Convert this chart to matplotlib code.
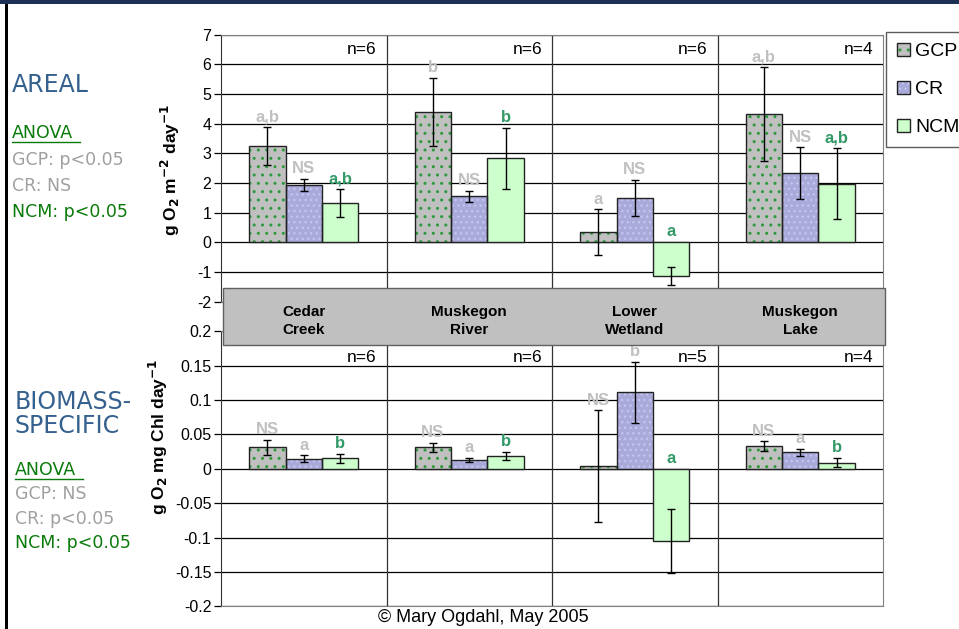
import numpy as np
import matplotlib
matplotlib.use("Agg")
import matplotlib.pyplot as plt
from matplotlib.patches import Rectangle, Patch

plt.rcParams['font.family'] = ['Liberation Sans', 'DejaVu Sans']
plt.rcParams['hatch.linewidth'] = 1.0

# ---- data ----
sites = ["Cedar\nCreek", "Muskegon\nRiver", "Lower\nWetland", "Muskegon\nLake"]
series = ["GCP", "CR", "NCM"]

areal = {"GCP": [3.24, 4.38, 0.34, 4.32],
         "CR":  [1.93, 1.55, 1.50, 2.33],
         "NCM": [1.32, 2.83, -1.15, 1.97]}
areal_err = {"GCP": [0.65, 1.15, 0.77, 1.58],
             "CR":  [0.20, 0.18, 0.60, 0.87],
             "NCM": [0.48, 1.03, 0.31, 1.20]}
areal_n = ["n=6", "n=6", "n=6", "n=4"]
areal_lab = {"GCP": ["a,b", "b", "a", "a,b"],
             "CR":  ["NS", "NS", "NS", "NS"],
             "NCM": ["a,b", "b", "a", "a,b"]}

bio = {"GCP": [0.031, 0.031, 0.004, 0.033],
       "CR":  [0.0145, 0.013, 0.111, 0.024],
       "NCM": [0.015, 0.019, -0.105, 0.009]}
bio_err = {"GCP": [0.011, 0.007, 0.081, 0.007],
           "CR":  [0.005, 0.003, 0.044, 0.005],
           "NCM": [0.007, 0.006, 0.047, 0.007]}
bio_n = ["n=6", "n=6", "n=5", "n=4"]
bio_lab = {"GCP": ["NS", "NS", "NS", "NS"],
           "CR":  ["a", "a", "b", "a"],
           "NCM": ["b", "b", "a", "b"]}

face = {"GCP": "#c0c0c0", "CR": "#a9a9da", "NCM": "#ccffcc"}
hatchc = {"GCP": "#2e9a3e", "CR": "#c4c4f0", "NCM": None}
hatchp = {"GCP": "..", "CR": "...", "NCM": None}
labc = {"GCP": "#c0c0c0", "CR": "#c0c0c0", "NCM": "#339966"}

W, H = 959, 629
fig = plt.figure(figsize=(W / 100, H / 100), dpi=100)


def px(x0, y0, x1, y1):
    # pixel box (top-left origin) -> figure fraction rect
    return [x0 / W, 1 - y1 / H, (x1 - x0) / W, (y1 - y0) / H]


def fmt(t):
    t = round(float(t), 4) + 0.0
    return f"{t:g}"


def draw_panel(ax, vals, errs, nlab, labs, ylim, ystep, ny):
    ng = len(sites)
    ax.set_xlim(0, ng)
    ax.set_ylim(*ylim)
    ticks = np.round(np.arange(ylim[0], ylim[1] + ystep / 2, ystep), 4)
    ax.set_yticks(ticks)
    ax.set_yticklabels([fmt(t) for t in ticks], fontsize=11.5)
    for t in ticks:
        ax.axhline(t, color="black", lw=0.9, zorder=0)
    for g in range(1, ng):
        ax.axvline(g, color="#333333", lw=0.9, zorder=0)
    ax.set_xticks([])
    for s in ["top", "right", "bottom"]:
        ax.spines[s].set_color("#808080")
    ax.spines["left"].set_color("#333333")
    ax.tick_params(axis="y", direction="out", length=5, width=0.9, pad=2)
    bw = 0.22
    offs = [-bw, 0, bw]
    for k, s in enumerate(series):
        x = np.arange(ng) + 0.5 + offs[k]
        v = np.array(vals[s])
        e = np.array(errs[s])
        ax.bar(x, v, width=bw, color=face[s], edgecolor=hatchc[s] or face[s],
               hatch=hatchp[s], linewidth=0, zorder=2)
        ax.bar(x, v, width=bw, facecolor="none", edgecolor="#222222",
               linewidth=1.0, zorder=3)
        ax.errorbar(x, v, yerr=e, fmt="none", ecolor="black", elinewidth=1,
                    capsize=3, capthick=1, zorder=4)
        for i in range(ng):
            top = v[i] + e[i] if v[i] >= 0 else 0
            ax.annotate(labs[s][i], (x[i], top), xytext=(0, 2),
                        textcoords="offset points", ha="center", va="bottom",
                        fontsize=12, fontweight="bold", color=labc[s], zorder=5)
    for i in range(ng):
        ax.text(i + 0.94, ny, nlab[i], ha="right", va="center",
                fontsize=12.5, transform=ax.get_xaxis_transform())


ax1 = fig.add_axes(px(221, 34.7, 883, 301.5))
draw_panel(ax1, areal, areal_err, areal_n, areal_lab, (-2, 7), 1, 0.946)
ax1.set_ylabel("g O$_\\mathbf{2}$ m$^\\mathbf{-2}$ day$^\\mathbf{-1}$",
               fontsize=12.5, fontweight="bold")
ax1.yaxis.set_label_coords((182 - 221) / 662, 0.493)

ax2 = fig.add_axes(px(221, 331.3, 883, 606.3))
draw_panel(ax2, bio, bio_err, bio_n, bio_lab, (-0.2, 0.2), 0.05, 0.903)
ax2.set_ylabel("g O$_\\mathbf{2}$ mg Chl day$^\\mathbf{-1}$",
               fontsize=12.5, fontweight="bold")
ax2.yaxis.set_label_coords((170 - 221) / 662, 0.616)

# site band between the panels
band = Rectangle((223 / W, 1 - 345 / H), (885 - 223) / W, (345 - 288) / H,
                 transform=fig.transFigure, facecolor="#c0c0c0",
                 edgecolor="#606060", lw=1, zorder=10)
fig.add_artist(band)
for i, s in enumerate(sites):
    cx = 221 + (i + 0.5) * 662 / 4
    fig.text(cx / W, 1 - 321 / H, s, ha="center", va="center", fontsize=11,
             fontweight="bold", zorder=11, linespacing=1.35)

# legend
handles = []
for s in series:
    fill = Patch(facecolor=face[s], edgecolor=hatchc[s] or face[s],
                 hatch=hatchp[s], linewidth=0)
    edge = Patch(facecolor="none", edgecolor="#222222", linewidth=1)
    handles.append((fill, edge))
leg = fig.legend(handles=handles, labels=series, loc="upper left",
                 bbox_to_anchor=(886 / W, 1 - 32 / H), frameon=True,
                 fontsize=14, handlelength=0.7, handleheight=0.7,
                 handletextpad=0.25, labelspacing=1.05, borderpad=0.55,
                 fancybox=False, borderaxespad=0)
leg.get_frame().set_edgecolor("#333333")
leg.get_frame().set_linewidth(1)

# left side text
blue = "#35618f"
dgreen = "#0a7a0a"
gray = "#a0a0a0"
vf = ["DejaVu Sans"]
fig.text(12 / W, 1 - 85 / H, "AREAL", color=blue, fontsize=17, va="center",
         family=vf)
fig.text(12 / W, 1 - 133 / H, "ANOVA", color=dgreen, fontsize=12.5,
         va="center", family=vf)
fig.add_artist(plt.Line2D([12 / W, 80 / W], [1 - 142 / H, 1 - 142 / H],
                          color=dgreen, lw=1))
fig.text(12 / W, 1 - 160 / H, "GCP: p<0.05", color=gray, fontsize=12.5,
         va="center", family=vf)
fig.text(12 / W, 1 - 186 / H, "CR: NS", color=gray, fontsize=12.5,
         va="center", family=vf)
fig.text(12 / W, 1 - 212 / H, "NCM: p<0.05", color=dgreen, fontsize=12.5,
         va="center", family=vf)

fig.text(15 / W, 1 - 414 / H, "BIOMASS-\nSPECIFIC", color=blue, fontsize=17,
         va="center", family=vf, linespacing=1.0)
fig.text(15 / W, 1 - 470 / H, "ANOVA", color=dgreen, fontsize=12.5,
         va="center", family=vf)
fig.add_artist(plt.Line2D([15 / W, 83 / W], [1 - 479 / H, 1 - 479 / H],
                          color=dgreen, lw=1))
fig.text(15 / W, 1 - 494 / H, "GCP: NS", color=gray, fontsize=12.5,
         va="center", family=vf)
fig.text(15 / W, 1 - 519 / H, "CR: p<0.05", color=gray, fontsize=12.5,
         va="center", family=vf)
fig.text(15 / W, 1 - 543 / H, "NCM: p<0.05", color=dgreen, fontsize=12.5,
         va="center", family=vf)

fig.text(483 / W, 1 - 617 / H, "\u00a9 Mary Ogdahl, May 2005", ha="center",
         va="center", fontsize=13)

# slide borders
fig.add_artist(Rectangle((0, 1 - 4 / H), 1, 4 / H, transform=fig.transFigure,
                         facecolor="#1c2f55", edgecolor="none"))
fig.add_artist(Rectangle((5 / W, 0), 3 / W, 1 - 4 / H,
                         transform=fig.transFigure, facecolor="black",
                         edgecolor="none"))

fig.savefig("out.png", dpi=100)
